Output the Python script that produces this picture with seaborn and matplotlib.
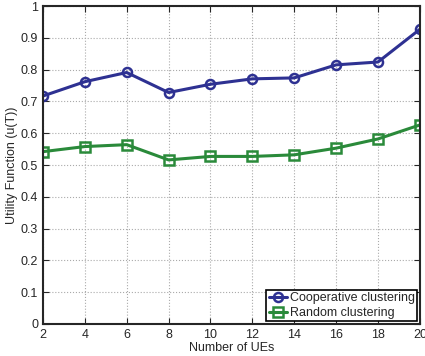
import numpy as np
import pandas as pd
import seaborn as sns
import matplotlib
matplotlib.use('Agg')
import matplotlib.pyplot as plt

num_ues = [2, 4, 6, 8, 10, 12, 14, 16, 18, 20]
coop = [0.717, 0.762, 0.791, 0.728, 0.754, 0.771, 0.774, 0.815, 0.824, 0.927]
rand = [0.542, 0.558, 0.564, 0.516, 0.527, 0.527, 0.532, 0.553, 0.582, 0.626]
series = ['Cooperative clustering', 'Random clustering']

df = pd.DataFrame({'UEs': num_ues * 2,
                   'u': coop + rand,
                   'Method': [series[0]] * len(num_ues) + [series[1]] * len(num_ues)})

sns.set_style('ticks')
plt.rcParams['font.family'] = ['Liberation Sans', 'DejaVu Sans']
palette = ['#2e3192', '#2a8a3a']

fig, ax = plt.subplots(figsize=(4.25, 3.56), dpi=100)
sns.lineplot(x='UEs', y='u', hue='Method', style='Method', data=df,
             palette=palette, markers=['o', 's'], dashes=False,
             linewidth=2.2, markersize=6.5, markerfacecolor='none',
             markeredgewidth=1.8, ax=ax)
for line, c in zip(ax.lines, palette):
    line.set_markeredgecolor(c)

ax.set_xlim(2, 20)
ax.set_ylim(0, 1)
ax.set_xticks(num_ues)
ax.set_yticks(np.arange(0, 1.01, 0.1))
ax.set_yticklabels(['0', '0.1', '0.2', '0.3', '0.4', '0.5', '0.6', '0.7', '0.8', '0.9', '1'])
ax.grid(True, linestyle=':', color='#aaaaaa', linewidth=0.8)
ax.tick_params(direction='in', labelsize=9, top=True, right=True, length=4)
for s in ax.spines.values():
    s.set_linewidth(1.5)
ax.set_xlabel('Number of UEs', fontsize=9, labelpad=1)
ax.set_ylabel('Utility Function (u(T))', fontsize=9, labelpad=2)

handles, labels = ax.get_legend_handles_labels()
for h, c in zip(handles, palette):
    h.set_markeredgecolor(c)
    h.set_markerfacecolor('none')
leg = ax.legend(handles=handles, labels=labels, loc='lower right', fontsize=9,
                fancybox=False, framealpha=1, edgecolor='k', borderaxespad=0.2,
                handlelength=1.5, handletextpad=0.2, borderpad=0.2, labelspacing=0.2)
leg.get_frame().set_linewidth(1.2)

fig.subplots_adjust(left=0.101, right=0.988, bottom=0.09, top=0.983)
fig.savefig('out.png', dpi=100)
